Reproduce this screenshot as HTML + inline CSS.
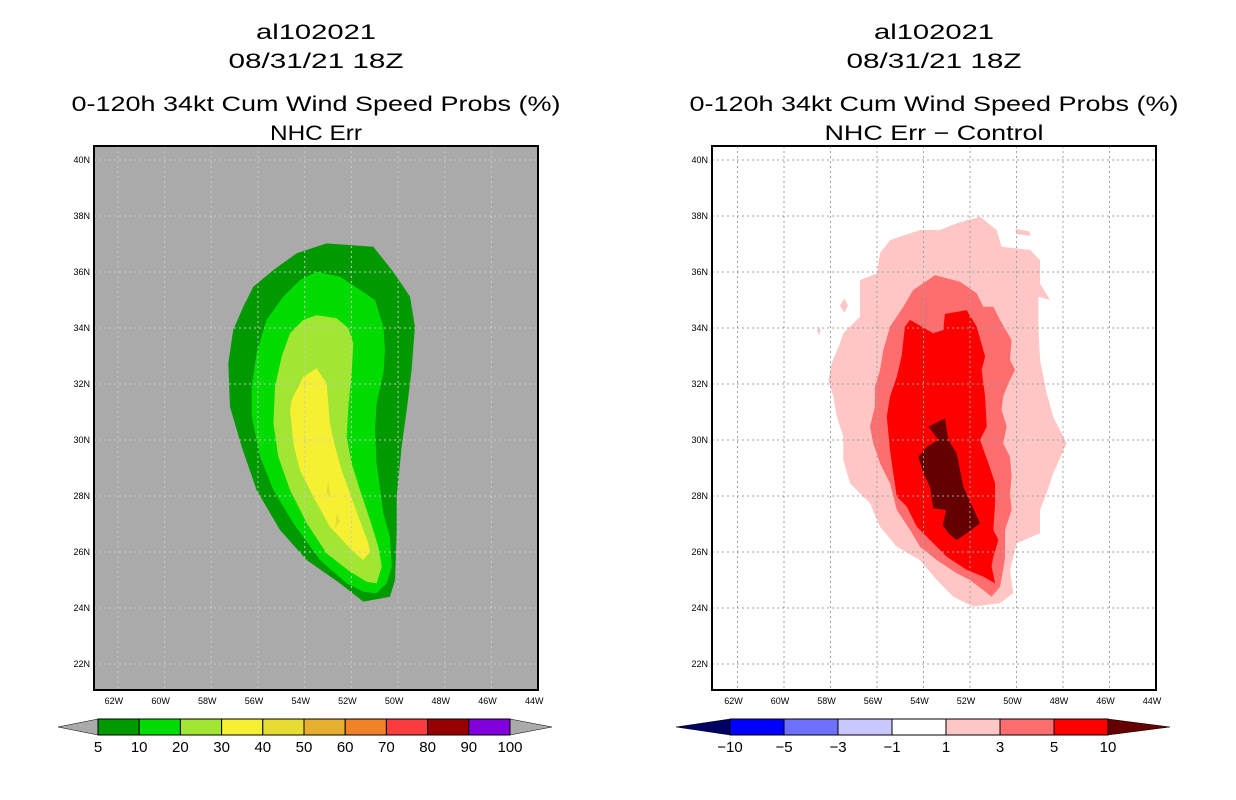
<!DOCTYPE html>
<html><head><meta charset="utf-8"><style>
body{margin:0;background:#fff;width:1236px;height:800px;overflow:hidden}
svg{display:block;font-family:"Liberation Sans",sans-serif}
</style></head><body>
<svg id="c" width="1236" height="800" viewBox="0 0 1236 800"></svg>
<script>
// ---- data (lon in degrees W, lat in degrees N) ----
const latTicks=[40,38,36,34,32,30,28,26,24,22];
const lonTicks=[62,60,58,56,54,52,50,48,46,44];
const leftLevels=["5","10","20","30","40","50","60","70","80","90","100"];
const leftColors=["#009900","#00dc00","#a0e632","#f5f032","#e6dc32","#e6af2d","#f08228","#fa3c3c","#960000","#8200dc"];
const rightLevels=["-10","-5","-3","-1","1","3","5","10"];
const rightColors=["#0000ff","#7070ff","#c8c8ff","#ffffff","#ffc6c6","#ff6e6e","#ff0000"];
const lg5=[[53.06,37.02],[51.06,36.9],[50.21,36.01],[49.49,35.12],[49.28,34.05],[49.42,32.5],[49.63,31.07],[49.85,29.76],[50.06,27.97],[50.06,26.79],[50.13,25.0],[50.35,24.4],[51.49,24.23],[52.49,24.88],[53.91,25.71],[55.06,26.79],[56.06,28.21],[56.7,29.76],[57.2,31.19],[57.27,32.74],[57.06,33.93],[56.63,34.76],[56.2,35.47],[55.34,36.07],[54.34,36.67]];
const lg10=[[53.49,36.01],[52.49,35.83],[51.63,35.36],[50.99,35.0],[50.63,34.05],[50.56,33.21],[50.63,32.38],[50.92,31.31],[50.99,30.36],[50.92,29.17],[50.63,27.38],[50.35,26.55],[50.27,25.48],[50.49,24.88],[50.92,24.53],[51.49,24.58],[52.2,24.88],[53.34,25.71],[54.49,27.03],[55.34,28.21],[55.91,29.4],[56.27,30.83],[56.27,31.9],[56.06,33.1],[55.63,34.29],[54.92,35.12],[54.2,35.71]];
const lg20=[[53.49,34.46],[52.63,34.35],[52.13,33.99],[51.92,33.45],[51.99,32.38],[52.13,31.19],[52.2,30.12],[51.99,29.17],[51.63,28.21],[51.2,27.14],[50.85,26.19],[50.7,25.48],[50.92,24.88],[51.35,24.94],[52.06,25.3],[53.06,25.95],[53.91,27.03],[54.63,28.21],[55.13,29.4],[55.34,30.59],[55.27,31.9],[54.99,32.97],[54.63,33.81],[54.06,34.29]];
const lg30=[[53.49,32.56],[53.06,32.03],[52.99,31.31],[52.92,30.59],[52.7,29.76],[52.42,28.93],[52.06,28.1],[51.7,27.26],[51.27,26.31],[51.2,26.01],[51.49,25.71],[51.99,26.07],[52.92,26.9],[53.63,27.97],[54.2,28.93],[54.49,29.88],[54.63,31.07],[54.56,31.43],[54.06,32.26]];
const lg40a=[[53.0,28.55],[52.88,27.95],[53.08,28.1]];
const lg40b=[[52.62,27.4],[52.5,27.1],[52.7,26.85]];
const rp1=[[51.57,37.98],[50.85,37.5],[50.64,36.9],[49.42,36.79],[48.99,36.43],[48.99,35.6],[48.56,35.0],[49.06,35.12],[49.06,34.05],[48.99,32.86],[48.7,31.67],[48.42,30.83],[47.84,29.88],[48.42,28.81],[48.7,28.1],[48.99,27.5],[48.99,26.67],[49.99,26.31],[50.28,25.36],[50.14,24.53],[50.71,24.17],[51.86,24.05],[52.72,24.4],[53.43,25.0],[54.15,25.71],[55.15,26.19],[55.87,26.9],[56.3,27.74],[57.16,28.45],[57.45,29.29],[57.45,30.12],[57.73,30.83],[57.88,31.55],[58.09,32.14],[57.95,32.74],[57.59,33.45],[57.45,33.81],[56.73,34.4],[56.73,35.71],[56.01,35.95],[55.87,36.67],[55.44,37.14],[55.01,37.26],[54.15,37.5],[53.29,37.5],[52.57,37.74]];
const rp1b=[[50.05,37.55],[49.45,37.45],[49.4,37.3],[50.0,37.35]];
const rp1c=[[57.4,35.05],[57.25,34.8],[57.4,34.55],[57.6,34.8]];
const rp1d=[[58.5,34.05],[58.42,33.9],[58.5,33.75],[58.58,33.9]];
const rp3=[[53.51,35.89],[52.43,35.65],[51.71,35.24],[51.43,34.76],[51.0,34.76],[50.71,34.29],[50.21,33.57],[50.28,32.86],[50.06,32.5],[50.35,32.03],[50.57,31.55],[50.64,31.07],[50.42,30.48],[50.57,29.88],[50.28,29.4],[50.21,28.69],[50.28,28.1],[50.21,27.5],[50.49,26.79],[50.49,25.83],[50.57,25.36],[50.71,24.76],[51.07,24.4],[51.43,24.64],[52.0,25.0],[52.57,25.24],[53.43,25.71],[54.15,26.19],[54.58,26.79],[55.15,27.5],[55.44,28.45],[55.87,29.17],[56.16,29.88],[56.3,30.48],[56.09,31.19],[56.09,31.9],[55.87,32.5],[55.73,33.21],[55.44,34.05],[54.87,34.76],[54.44,35.36],[54.01,35.6]];
const rp5=[[54.58,34.29],[53.58,33.81],[53.15,33.93],[53.08,34.5],[52.14,34.64],[51.71,34.05],[51.35,32.98],[51.5,32.5],[51.35,31.55],[51.28,30.48],[51.57,30.0],[51.21,29.17],[50.92,28.45],[50.92,27.74],[51.0,26.79],[50.78,26.43],[51.0,25.83],[51.07,25.48],[50.92,24.88],[51.43,25.12],[52.14,25.36],[53.0,25.83],[53.72,26.43],[54.29,26.9],[54.72,27.62],[55.15,27.98],[55.3,28.81],[55.44,29.64],[55.58,30.83],[55.44,31.55],[55.15,32.26],[54.94,32.98],[54.8,34.05]];
const rp10=[[53.79,30.48],[53.08,30.78],[52.93,30.0],[52.57,29.52],[52.29,28.33],[51.57,27.03],[52.14,26.67],[52.57,26.43],[52.93,26.67],[53.17,26.96],[53.03,27.5],[53.58,27.56],[53.72,28.33],[54.01,28.81],[54.22,29.4],[53.86,29.76],[53.36,30.0]];

const NS='http://www.w3.org/2000/svg';
const svg=document.getElementById('c');
function el(tag,attrs,parent,text){const e=document.createElementNS(NS,tag);for(const k in attrs)e.setAttribute(k,attrs[k]);if(text!==undefined)e.textContent=text;(parent||svg).appendChild(e);return e;}
const yLat=lat=>160+(40-lat)*28;
function makePanel(opts){
  const g=el('g',{});
  
  
  const x=lon=>opts.x56+(56-lon)*opts.sx;
  const cx=(opts.x0+opts.x1)/2;
  const titles=["al102021","08/31/21 18Z","0-120h 34kt Cum Wind Speed Probs (%)",opts.sub];
  const tl=[120,175,489,opts.subLen];
  const ty=[39,68,111,140];
  titles.forEach((t,i)=>{const e=el('text',{x:cx,y:ty[i],'text-anchor':'middle','font-size':'21','fill':'#000',textLength:tl[i],lengthAdjust:'spacingAndGlyphs'},g,t);
    
    });
  const bg=el('rect',{x:opts.x0,y:146,width:opts.x1-opts.x0,height:544,fill:opts.bg},g);
  
  
  opts.shapes.forEach(s=>{
    const p=el('polygon',{points:s.pts.map(q=>x(q[0]).toFixed(1)+','+yLat(q[1]).toFixed(1)).join(' '),fill:s.c},g);
    
    
  });
  lonTicks.forEach(l=>{const xx=x(l);if(xx>opts.x0+2&&xx<opts.x1-2){
    const ln=el('line',{x1:xx,x2:xx,y1:146,y2:690,stroke:opts.grid,'stroke-width':1,'stroke-dasharray':'2,3'},g);
    
    }
    const t=el('text',{x:xx-4,y:704,'text-anchor':'middle','font-size':'9'},g,l+'W');
    
    });
  latTicks.forEach(l=>{const yy=yLat(l);
    const ln=el('line',{x1:opts.x0,x2:opts.x1,y1:yy,y2:yy,stroke:opts.grid,'stroke-width':1,'stroke-dasharray':'2,3'},g);
    
    
    const t=el('text',{x:opts.x0-4,y:yy+3,'text-anchor':'end','font-size':'9'},g,l+'N');
    
    });
  const fr=el('rect',{x:opts.x0,y:146,width:opts.x1-opts.x0,height:544,fill:'none',stroke:'#000','stroke-width':2},g);
  
  
  const cb=el('g',{},g);
  
  
  const n=opts.cols.length, w=(opts.cb1-opts.cb0)/n, y0=719,y1=735,ym=727;
  el('polygon',{points:`${opts.cb0},${y0} ${opts.cb0},${y1} ${opts.t0},${ym}`,fill:opts.lt,stroke:'#000','stroke-width':0.5},cb);
  el('polygon',{points:`${opts.cb1},${y0} ${opts.cb1},${y1} ${opts.t1},${ym}`,fill:opts.rt,stroke:'#000','stroke-width':0.5},cb);
  opts.cols.forEach((c,i)=>{const r=el('rect',{x:opts.cb0+i*w,y:y0,width:w,height:y1-y0,fill:c,stroke:'#000','stroke-width':1},cb);
    
    });
  opts.labs.forEach((L,i)=>{const xx=opts.cb0+i*w;
    const t=el('text',{x:xx,y:752,'text-anchor':'middle','font-size':'15'},cb,L.replace('-','\u2212'));
    
    });
}
makePanel({name:'left-panel-nhc-err',sub:'NHC Err',subLen:92,x0:94,x1:538,x56:258,sx:23.35,bg:'#aaaaaa',grid:'#c8c8c8',
  shapes:[{pts:lg5,c:leftColors[0],n:'contour-5'},{pts:lg10,c:leftColors[1],n:'contour-10'},{pts:lg20,c:leftColors[2],n:'contour-20'},{pts:lg30,c:leftColors[3],n:'contour-30'},{pts:lg40a,c:leftColors[4],n:'contour-40'},{pts:lg40b,c:leftColors[4],n:'contour-40'}],
  cols:leftColors,labs:leftLevels,cb0:98,cb1:510,t0:58,t1:552,lt:'#aaaaaa',rt:'#aaaaaa'});
makePanel({name:'right-panel-nhc-minus-control',sub:'NHC Err \u2212 Control',subLen:219,x0:712,x1:1156,x56:877,sx:23.25,bg:'#ffffff',grid:'#a0a0a0',
  shapes:[{pts:rp1,c:rightColors[4],n:'contour-1'},{pts:rp1b,c:rightColors[4],n:'contour-1'},{pts:rp1c,c:rightColors[4],n:'contour-1'},{pts:rp1d,c:rightColors[4],n:'contour-1'},{pts:rp3,c:rightColors[5],n:'contour-3'},{pts:rp5,c:rightColors[6],n:'contour-5'},{pts:rp10,c:'#640000',n:'contour-10'}],
  cols:rightColors,labs:rightLevels,cb0:730,cb1:1108,t0:676,t1:1170,lt:'#000064',rt:'#640000'});
</script>
</body></html>
